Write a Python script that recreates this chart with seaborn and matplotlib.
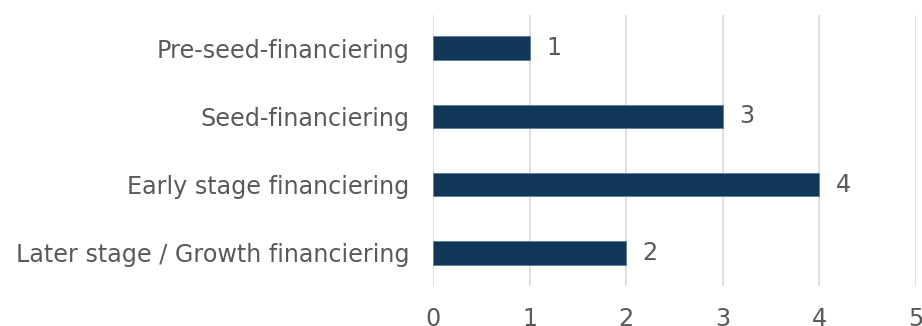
import matplotlib
matplotlib.use("Agg")
import matplotlib.pyplot as plt
import seaborn as sns
import pandas as pd

categories = ["Pre-seed-financiering", "Seed-financiering", "Early stage financiering",
              "Later stage / Growth financiering"]
values = [1, 3, 4, 2]
x_ticks = [0, 1, 2, 3, 4, 5]

sns.set_theme(style="white")
plt.rcParams['font.family'] = ['DejaVu Sans']
plt.rcParams['font.sans-serif'] = ['DejaVu Sans']

df = pd.DataFrame({"cat": categories, "val": values})

FS = 17.2
fig = plt.figure(figsize=(9.22, 3.26), dpi=100)
ax = fig.add_axes([0.4696, 0.1227, 0.524, 0.8313])
sns.barplot(data=df, y="cat", x="val", orient="h", color="#043764", width=0.35,
            edgecolor="#5a7fa0", linewidth=0.6, ax=ax, zorder=3)
ax.set_xlim(0, 5)
ax.set_ylim(3.49, -0.49)
ax.set_xticks(x_ticks)
ax.set_xticklabels([str(t) for t in x_ticks])
ax.set_xlabel("")
ax.set_ylabel("")
for s in ax.spines.values():
    s.set_visible(False)
ax.grid(axis="x", color="#d9d9d9", linewidth=1.2, zorder=0)
ax.grid(axis="y", visible=False)
ax.tick_params(axis="x", length=0, pad=15, labelsize=FS, labelcolor="#595959")
ax.tick_params(axis="y", length=0, pad=17, labelsize=FS, labelcolor="#595959")
for lab in ax.get_xticklabels() + ax.get_yticklabels():
    lab.set_family("DejaVu Sans")
for i, v in enumerate(values):
    ax.text(v + 0.17, i, str(v), va="center", ha="left", fontsize=FS, color="#595959",
            family="DejaVu Sans")

fig.savefig("out.png", dpi=100)
